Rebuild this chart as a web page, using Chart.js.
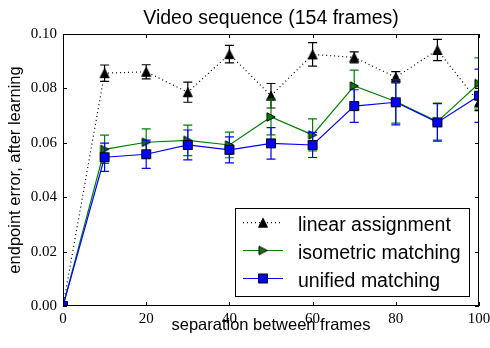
<!DOCTYPE html>
<html><head><meta charset="utf-8">
<script src="https://cdn.jsdelivr.net/npm/chart.js@4/dist/chart.umd.min.js"></script>
<style>html,body{margin:0;padding:0;background:#fff}</style>
</head><body>
<canvas id="c" width="490" height="348"></canvas>
<script>
// ---- data ----
const separations = [0, 10, 20, 30, 40, 50, 60, 70, 80, 90, 100];
const linearAssignment    = [0, 0.0856, 0.0861, 0.0786, 0.0926, 0.0773, 0.0925, 0.0914, 0.0841, 0.0941, 0.0748];
const linearAssignmentErr = [0, 0.0030, 0.0026, 0.0037, 0.0032, 0.0045, 0.0043, 0.0020, 0.0021, 0.0039, 0.0030];
const isometricMatching    = [0, 0.0576, 0.0602, 0.0609, 0.0592, 0.0695, 0.0629, 0.0809, 0.0752, 0.0678, 0.0818];
const isometricMatchingErr = [0, 0.0052, 0.0049, 0.0056, 0.0047, 0.0066, 0.0059, 0.0058, 0.0080, 0.0068, 0.0094];
const unifiedMatching    = [0, 0.0547, 0.0558, 0.0592, 0.0574, 0.0598, 0.0592, 0.0735, 0.0749, 0.0675, 0.0773];
const unifiedMatchingErr = [0, 0.0052, 0.0052, 0.0055, 0.0048, 0.0058, 0.0046, 0.0060, 0.0083, 0.0069, 0.0098];
const seriesLabels = ['linear assignment', 'isometric matching', 'unified matching'];
const xTicks = [0, 20, 40, 60, 80, 100];
const yTicks = [0, 0.02, 0.04, 0.06, 0.08, 0.10];
const chartTitle = 'Video sequence (154 frames)';
const xTitle = 'separation between frames';
const yTitle = 'endpoint error, after learning';

// ---- marker images (matplotlib-like) ----
function makeMarker(kind, fill) {
  const s = 12, c = document.createElement('canvas');
  c.width = s; c.height = s;
  const g = c.getContext('2d');
  g.fillStyle = fill; g.strokeStyle = '#000'; g.lineWidth = 1;
  g.beginPath();
  if (kind === '^') { g.moveTo(6, 1.5); g.lineTo(10.5, 10.5); g.lineTo(1.5, 10.5); g.closePath(); }
  else if (kind === '>') { g.moveTo(10.2, 6); g.lineTo(2, 1.8); g.lineTo(2, 10.2); g.closePath(); }
  else { g.rect(1.5, 1.5, 9, 9); }
  g.fill(); g.stroke();
  return c;
}
const mTri = makeMarker('^', '#000000');
const mRight = makeMarker('>', '#008000');
const mSq = makeMarker('s', '#0000ff');

const errors = [linearAssignmentErr, isometricMatchingErr, unifiedMatchingErr];

const toPts = ys => separations.map((x, i) => ({x, y: ys[i]}));

const overlay = {
  id: 'overlay',
  beforeDatasetDraw(chart, args) {
    const ds = chart.data.datasets[args.index];
    const err = errors[args.index];
    const meta = args.meta, ys = chart.scales.y, a = chart.chartArea;
    const ctx = chart.ctx;
    ctx.save();
    ctx.beginPath(); ctx.rect(a.left, a.top, a.right - a.left, a.bottom - a.top); ctx.clip();
    ctx.strokeStyle = ds.borderColor; ctx.lineWidth = 1.2; ctx.setLineDash([]);
    meta.data.forEach((pt, i) => {
      const v = ds.data[i].y, e = err[i];
      if (!e) return;
      const y1 = ys.getPixelForValue(v + e), y2 = ys.getPixelForValue(v - e);
      ctx.beginPath();
      ctx.moveTo(pt.x, y1); ctx.lineTo(pt.x, y2);
      ctx.moveTo(pt.x - 4.5, y1); ctx.lineTo(pt.x + 4.5, y1);
      ctx.moveTo(pt.x - 4.5, y2); ctx.lineTo(pt.x + 4.5, y2);
      ctx.stroke();
    });
    ctx.restore();
  },
  afterDatasetsDraw(chart) {
    const ctx = chart.ctx, a = chart.chartArea;
    const xs = chart.scales.x, ys = chart.scales.y;
    ctx.save();
    ctx.strokeStyle = '#000'; ctx.lineWidth = 1; ctx.setLineDash([]);
    // inward ticks
    ctx.beginPath();
    xs.ticks.forEach(t => {
      const px = Math.round(xs.getPixelForValue(t.value)) + 0.5;
      ctx.moveTo(px, a.bottom); ctx.lineTo(px, a.bottom - 4);
      ctx.moveTo(px, a.top); ctx.lineTo(px, a.top + 4);
    });
    ys.ticks.forEach(t => {
      const py = Math.round(ys.getPixelForValue(t.value)) + 0.5;
      ctx.moveTo(a.left, py); ctx.lineTo(a.left + 4, py);
      ctx.moveTo(a.right, py); ctx.lineTo(a.right - 4, py);
    });
    ctx.stroke();
    // frame
    ctx.strokeRect(a.left + 0.5, a.top + 0.5, a.right - a.left - 1, a.bottom - a.top - 1);
    // legend box
    const lx = 235.5, ly = 208.5, lw = 234, lh = 88;
    ctx.fillStyle = '#fff';
    ctx.fillRect(lx, ly, lw, lh);
    ctx.strokeRect(lx, ly, lw, lh);
    const rows = [222.7, 250.5, 278.5];
    chart.data.datasets.forEach((ds, i) => {
      const y = rows[i];
      ctx.save();
      ctx.strokeStyle = ds.borderColor; ctx.lineWidth = 1.2;
      ctx.setLineDash(ds.borderDash || []);
      ctx.beginPath(); ctx.moveTo(243, y); ctx.lineTo(283, y); ctx.stroke();
      ctx.restore();
      const img = ds.pointStyle;
      ctx.drawImage(img, 263 - img.width / 2, y - img.height / 2);
      ctx.fillStyle = '#000';
      ctx.font = '19.5px "Liberation Sans"';
      ctx.textBaseline = 'alphabetic'; ctx.textAlign = 'left';
      ctx.fillText(ds.label, 298, y + 8.7);
    });
    ctx.restore();
  }
};

const noPad = s => { s.paddingLeft = 0; s.paddingRight = 0; s.paddingTop = 0; s.paddingBottom = 0; };

new Chart(document.getElementById('c'), {
  type: 'line',
  data: {
    datasets: [
      { label: seriesLabels[0], data: toPts(linearAssignment), borderColor: '#000000', backgroundColor: '#000000',
        borderWidth: 1.2, borderDash: [1, 3], pointStyle: mTri, pointRadius: 5, order: 3 },
      { label: seriesLabels[1], data: toPts(isometricMatching), borderColor: '#008000', backgroundColor: '#008000',
        borderWidth: 1.2, pointStyle: mRight, pointRadius: 5, order: 2 },
      { label: seriesLabels[2], data: toPts(unifiedMatching), borderColor: '#0000ff', backgroundColor: '#0000ff',
        borderWidth: 1.2, pointStyle: mSq, pointRadius: 5, order: 1 }
    ]
  },
  options: {
    responsive: false, animation: false, events: [], devicePixelRatio: 1,
    layout: { padding: { left: 0, right: 11, top: 0, bottom: 0 } },
    plugins: { legend: { display: false }, tooltip: { enabled: false }, title: { display: false } },
    scales: {
      x: {
        type: 'linear', position: 'bottom', min: 0, max: 100,
        afterBuildTicks: s => { s.ticks = xTicks.map(v => ({value: v})); },
        afterFit: s => { s.height = 42; noPad(s); },
        grid: { display: false, drawTicks: false }, border: { display: false },
        ticks: { padding: 4, color: '#000', font: { family: '"Liberation Serif"', size: 15 }, maxRotation: 0,
                 callback: v => String(v) },
        title: { display: true, text: xTitle, color: '#000', font: { family: '"Liberation Sans"', size: 16.5, lineHeight: 1.2 },
                 padding: { top: 0, bottom: 12.3 } }
      },
      x2: {
        type: 'linear', position: 'top', min: 0, max: 100,
        afterFit: s => { s.height = 34; noPad(s); },
        grid: { display: false, drawTicks: false }, border: { display: false },
        ticks: { display: false },
        title: { display: true, text: chartTitle, color: '#000', font: { family: '"Liberation Sans"', size: 19.5, lineHeight: 1.2 },
                 padding: { top: 6.5, bottom: 0 } }
      },
      y: {
        type: 'linear', min: 0, max: 0.1,
        afterBuildTicks: s => { s.ticks = yTicks.map(v => ({value: v})); },
        afterFit: s => { s.width = 63; noPad(s); },
        grid: { display: false, drawTicks: false }, border: { display: false },
        ticks: { padding: 6, color: '#000', font: { family: '"Liberation Serif"', size: 15 },
                 callback: v => Number(v).toFixed(2) },
        title: { display: true, text: yTitle, color: '#000', font: { family: '"Liberation Sans"', size: 16.5, lineHeight: 1.2 },
                 padding: { top: 6, bottom: 0 } }
      }
    }
  },
  plugins: [overlay]
});
</script>
</body></html>
